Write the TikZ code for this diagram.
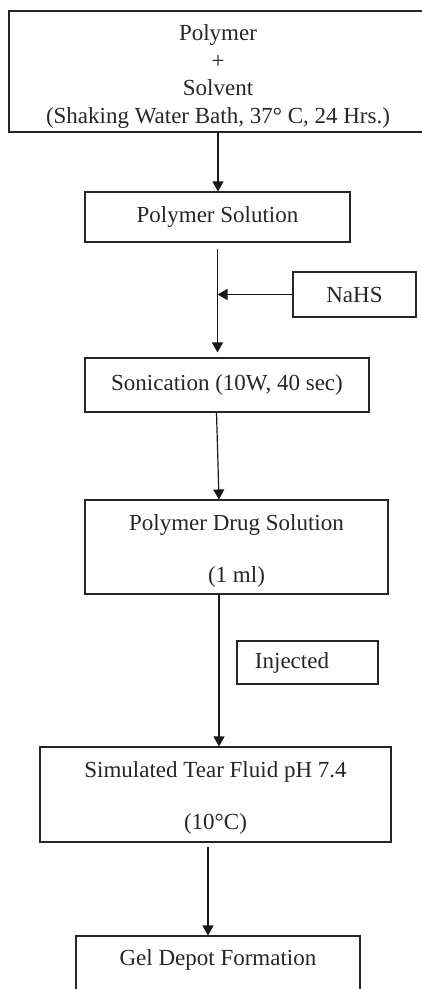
\documentclass[tikz,border=0pt]{standalone}
\usepackage{fontspec}
\setmainfont{Liberation Serif}
\usetikzlibrary{arrows.meta}
\begin{document}
\begin{tikzpicture}[x=1pt,y=-1pt,
  box/.style={draw=black!85, line width=1.1pt, rectangle, inner sep=0pt, align=center,
    font=\fontsize{23}{26.3}\selectfont, text=black!85},
  conn/.style={draw=black!90, line width=1.2pt, -{Triangle[length=10pt,width=11pt]}}]
\useasboundingbox (0,0) rectangle (422,989);
\clip (0,0) rectangle (422,989);
\node[box, minimum width=418pt, minimum height=121pt, font=\fontsize{23}{27.5}\selectfont] (b1) at (218,71.5)
  {\rule{0pt}{26pt}Polymer\\+\\Solvent\\(Shaking Water Bath, 37° C, 24 Hrs.)};
\node[box, minimum width=265pt, minimum height=50pt] (b2) at (217.5,217) {Polymer Solution};
\node[box, minimum width=123pt, minimum height=45pt] (nahs) at (354.5,294.5) {NaHS};
\node[box, minimum width=284pt, minimum height=54pt] (b3) at (227,385) {Sonication (10W, 40 sec)};
\node[box, minimum width=303pt, minimum height=94pt] (b4) at (236.5,547)
  {\rule{0pt}{24.7pt}Polymer Drug Solution\\[25.7pt](1 ml)};
\node[box, minimum width=141pt, minimum height=43pt] (inj) at (307.5,662.5) {Injected\hspace{31pt}};
\node[box, minimum width=351pt, minimum height=95pt] (b5) at (215.5,794.5)
  {\rule{0pt}{22.7pt}Simulated Tear Fluid pH 7.4\\[25.7pt](10°C)};
\node[box, minimum width=284pt, minimum height=60pt, text depth=17.7pt] (b6) at (218,966) {Gel Depot Formation};
% connectors
\draw[conn] (b1.south) -- (b1.south |- b2.north);
\draw[conn, shorten <=6pt, shorten >=5pt] (b2.south) -- (b2.south |- b3.north);
\draw[conn] (nahs.west) -- (nahs.west -| b2.south);
\draw[conn] ([xshift=-10.5pt]b3.south) -- ([xshift=-17.5pt]b4.north);
\draw[conn] ([xshift=-17.5pt]b4.south) -- ([xshift=3.5pt]b5.north);
\draw[conn, shorten <=4pt] ([xshift=-7.5pt]b5.south) -- ([xshift=-10pt]b6.north);
\end{tikzpicture}
\end{document}
